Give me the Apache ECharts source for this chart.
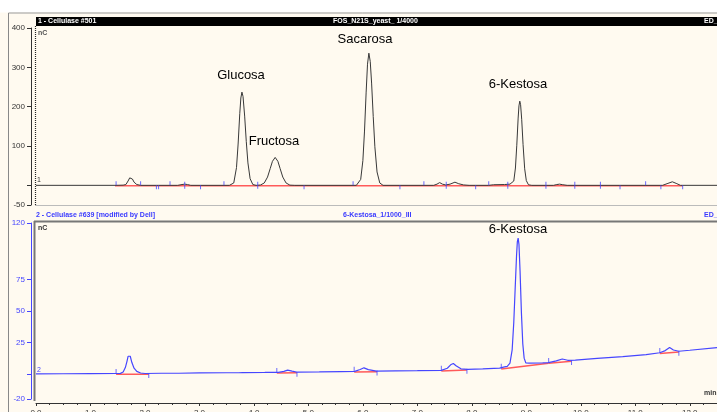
<!DOCTYPE html>
<html>
<head>
<meta charset="utf-8">
<script src="https://cdn.jsdelivr.net/npm/echarts@6/dist/echarts.min.js"></script>
<style>
html, body { margin: 0; padding: 0; background: #fff; }
#chart { width: 717px; height: 412px; }
</style>
</head>
<body>
<div id="chart"></div>
<script>
// tiempos en min, señal en mAU (arriba) y nC (abajo)
var topTrace = [
	[0, 0], [1.45, 0], [1.6, 0.5], [1.65, 2], [1.69, 11], [1.72, 19], [1.74, 21], [1.77, 16], [1.8, 8], [1.85, 2], [1.92, 0],
	[2.6, 0], [2.68, 2], [2.73, 3], [2.78, 2], [2.84, 0], [3.55, 0],
	[3.58, 0.3], [3.63, 6], [3.68, 45], [3.71, 105], [3.74, 182], [3.76, 222], [3.78, 237], [3.80, 226], [3.83, 176],
	[3.86, 111], [3.89, 57], [3.93, 17], [3.98, 2], [4.04, 0],
	[4.12, 0.8], [4.19, 6], [4.25, 21], [4.30, 43], [4.34, 61], [4.39, 71], [4.44, 61], [4.48, 43], [4.53, 21], [4.59, 6],
	[4.66, 0.5], [4.75, 0], [5.88, 0],
	[5.91, 1], [5.96, 15], [6.0, 63], [6.03, 138], [6.06, 237], [6.085, 308], [6.11, 336], [6.135, 315], [6.16, 260],
	[6.19, 175], [6.22, 98], [6.26, 34], [6.31, 6], [6.37, 0],
	[7.3, 0], [7.36, 3], [7.41, 7], [7.46, 3], [7.52, 1], [7.6, 3], [7.69, 8], [7.76, 4], [7.85, 1], [7.95, 0],
	[8.31, 0], [8.4, 1.5], [8.6, 2], [8.7, 3], [8.73, 5], [8.77, 11], [8.8, 44], [8.825, 102], [8.85, 171], [8.865, 202],
	[8.88, 214], [8.895, 205], [8.915, 168], [8.94, 104], [8.97, 42], [9.0, 12], [9.04, 1.3], [9.1, 0],
	[9.5, 0], [9.56, 2], [9.61, 3], [9.67, 1.5], [9.75, 0],
	[11.5, 0], [11.6, 5], [11.68, 9], [11.75, 5], [11.83, 0], [12.5, 0]
];
var topBaseline = [[1.45, -1.2], [11.87, -1.2]];
var topTicksUp = [1.47, 1.92, 2.46, 3.45, 5.82, 7.12, 8.31, 11.19];
var topTicksDown = [2.21, 2.25, 3.02, 4.92, 6.68, 8.07, 10.72, 11.47, 11.87];
var topTicksCross = [2.73, 4.07, 7.53, 8.66, 9.36, 9.89, 10.36];

var bottomTrace = [
	[0, 0], [0.5, 0.1], [1.0, 0.2], [1.47, 0.3], [1.55, 0.4], [1.6, 1.5], [1.64, 5], [1.67, 10], [1.69, 14], [1.71, 15.3],
	[1.73, 14], [1.76, 9], [1.8, 4.5], [1.85, 2], [1.92, 0.7], [2.0, 0.3],
	[2.3, 0.5], [2.55, 0.5], [2.58, 1.3], [2.62, 0.5], [3.0, 0.8], [3.5, 0.9], [3.72, 0.9], [3.75, 1.8], [3.79, 1],
	[4.2, 1.1], [4.45, 1.2], [4.55, 2], [4.62, 3], [4.7, 2.2], [4.8, 1.3], [5.2, 1.5], [5.6, 1.8], [5.85, 2],
	[5.95, 3.5], [6.02, 4.8], [6.1, 3.4], [6.25, 2.2], [6.6, 2.4], [7.0, 2.5], [7.44, 2.8],
	[7.55, 4.5], [7.62, 7.5], [7.66, 8.3], [7.71, 6.5], [7.8, 4], [7.92, 3.6], [8.2, 4], [8.51, 4.5],
	[8.6, 5.5], [8.65, 6], [8.7, 8.5], [8.74, 19], [8.77, 41], [8.795, 67.5], [8.82, 93.5], [8.835, 105], [8.85, 108],
	[8.865, 103], [8.885, 82], [8.91, 48.5], [8.935, 24], [8.96, 12.5], [8.99, 8.8], [9.05, 8.5],
	[9.3, 8.8], [9.41, 9], [9.55, 10.3], [9.66, 11.8], [9.76, 10.8], [9.9, 11], [10.3, 12.3], [10.77, 13.7],
	[11.2, 15.3], [11.45, 16.8], [11.55, 18.5], [11.63, 21], [11.7, 19], [11.8, 18], [12.0, 18.8], [12.5, 20.9]
];
var bottomBaselines = [
	[[1.47, -0.3], [2.07, -0.3]],
	[[4.42, 0.6], [4.79, 0.8]],
	[[5.84, 1.4], [6.26, 1.6]],
	[[7.44, 2.2], [7.91, 3.0]],
	[[8.54, 3.9], [9.41, 8.4]],
	[[9.41, 8.4], [9.83, 10.1]],
	[[11.45, 16.2], [11.8, 17.4]]
];
var bottomTicksUp = [[1.47, 0.3], [4.42, 1], [5.84, 2], [7.44, 2.8], [8.54, 4.5], [9.41, 9], [11.45, 17]];
var bottomTicksDown = [[2.07, 0.3], [4.79, 1.3], [6.26, 2.2], [7.91, 3.6], [9.83, 10.7], [11.8, 18]];

var topLabels = [400, 300, 200, 100, -50];
var topMajor = [400, 300, 200, 100, 0, -50];
var topMinor = [-40, -20, 20, 40, 60, 80, 120, 140, 160, 180, 220, 240, 260, 280, 320, 340, 360, 380];
var bottomLabels = [120, 75, 50, 25, -20];
var bottomMajor = [120, 75, 50, 25, 0, -20];
var bottomMinor = [-15, -10, -5, 5, 10, 15, 20, 30, 35, 40, 45, 55, 60, 65, 70, 80, 85, 90, 95, 100, 105, 110, 115];

var BLUE = '#4646ff';
var RED = '#ff5a5a';
var FONT = '"Liberation Sans", Arial, sans-serif';

function ticks(data, y, offset, size, xi, yi) {
	return {
		type: 'scatter',
		xAxisIndex: xi,
		yAxisIndex: yi,
		symbol: 'rect',
		symbolSize: size,
		symbolOffset: [0, offset],
		itemStyle: { color: BLUE },
		silent: true,
		z: 5,
		data: data.map(function(d) {
			return typeof d === 'number' ? [d, y] : d;
		})
	};
}

var series = [{
	type: 'line',
	xAxisIndex: 0,
	yAxisIndex: 0,
	data: topBaseline,
	symbol: 'none',
	lineStyle: { color: RED, width: 1.5 },
	z: 2
}, {
	type: 'line',
	xAxisIndex: 0,
	yAxisIndex: 0,
	data: topTrace,
	symbol: 'none',
	lineStyle: { color: '#383838', width: 1 },
	z: 3
}, {
	type: 'line',
	xAxisIndex: 1,
	yAxisIndex: 2,
	data: bottomTrace,
	symbol: 'none',
	lineStyle: { color: BLUE, width: 1.2 },
	z: 3
}];
bottomBaselines.forEach(function(seg) {
	series.push({
		type: 'line',
		xAxisIndex: 1,
		yAxisIndex: 2,
		data: seg,
		symbol: 'none',
		lineStyle: { color: RED, width: 1.5 },
		z: 2
	});
});
series.push(ticks(topTicksUp, 0, -2, [1, 4], 0, 0));
series.push(ticks(topTicksDown, 0, 2, [1, 4], 0, 0));
series.push(ticks(topTicksCross, 0, 0, [1, 7], 0, 0));
series.push(ticks(bottomTicksUp, 0, -2, [1, 5], 1, 2));
series.push(ticks(bottomTicksDown, 0, 2, [1, 5], 1, 2));

function yAx(grid, min, max, color, major, labels, minor) {
	return [{
		gridIndex: grid,
		type: 'value',
		min: min,
		max: max,
		offset: 5,
		axisLine: { show: true, onZero: false, lineStyle: { color: color, width: 1 } },
		axisTick: { show: true, length: 4, customValues: major, lineStyle: { color: color } },
		axisLabel: { customValues: labels, fontSize: 8, fontFamily: FONT, color: color, margin: 6 },
		splitLine: { show: false }
	}, {
		gridIndex: grid,
		type: 'value',
		min: min,
		max: max,
		offset: 5,
		axisLine: { show: false, onZero: false },
		axisTick: { show: true, length: 2, customValues: minor, lineStyle: { color: color } },
		axisLabel: { show: false },
		splitLine: { show: false }
	}];
}

var yAxes = yAx(0, -50, 400, '#333', topMajor, topLabels, topMinor)
	.concat(yAx(1, -20, 120, BLUE, bottomMajor, bottomLabels, bottomMinor));

function txt(text, x, y, size, color, align, bold) {
	return {
		type: 'text',
		x: x,
		y: y,
		z: 10,
		style: {
			text: text,
			fill: color,
			font: (bold ? 'bold ' : '') + size + 'px ' + FONT,
			textAlign: align || 'left',
			textVerticalAlign: 'middle'
		}
	};
}

var option = {
	backgroundColor: '#fffaf0',
	animation: false,
	grid: [
		{ left: 36, right: 0, top: 28, height: 177, outerBoundsMode: 'none' },
		{ left: 36, right: 0, top: 223, height: 176, outerBoundsMode: 'none' }
	],
	xAxis: [{
		gridIndex: 0,
		type: 'value',
		min: 0,
		max: 12.5,
		show: false
	}, {
		gridIndex: 1,
		type: 'value',
		min: 0,
		max: 12.5,
		interval: 1,
		offset: 4,
		axisLine: { show: true, onZero: false, lineStyle: { color: '#333', width: 1 } },
		axisTick: { length: 3, lineStyle: { color: '#333' } },
		minorTick: { show: true, splitNumber: 4, length: 2, lineStyle: { color: '#333' } },
		axisLabel: {
			fontSize: 8,
			fontFamily: FONT,
			color: '#333',
			margin: 6,
			showMaxLabel: false,
			formatter: function(v) { return v.toFixed(1); }
		},
		splitLine: { show: false }
	}],
	yAxis: yAxes,
	series: series,
	graphic: [
		// marcos
		{ type: 'rect', shape: { x: 0, y: 0, width: 717, height: 12.5 }, style: { fill: '#fff' }, z: 0 },
		{ type: 'line', shape: { x1: 8.5, y1: 13, x2: 717, y2: 13 }, style: { stroke: '#999', lineWidth: 1 } },
		{ type: 'line', shape: { x1: 8.5, y1: 13, x2: 8.5, y2: 412 }, style: { stroke: '#888', lineWidth: 1 } },
		{ type: 'rect', shape: { x: 36, y: 17, width: 681, height: 9 }, style: { fill: '#000' } },
		{ type: 'line', shape: { x1: 35.5, y1: 26, x2: 35.5, y2: 205 }, style: { stroke: '#222', lineWidth: 1.2, lineDash: [1, 1] } },
		{ type: 'line', shape: { x1: 35, y1: 205.5, x2: 717, y2: 205.5 }, style: { stroke: '#bbb', lineWidth: 1 } },
		{ type: 'line', shape: { x1: 34, y1: 221.5, x2: 717, y2: 221.5 }, style: { stroke: '#777', lineWidth: 2 } },
		{ type: 'line', shape: { x1: 34.5, y1: 221, x2: 34.5, y2: 401 }, style: { stroke: '#777', lineWidth: 2 } },
		// cabeceras
		txt('1 - Cellulase #501', 38, 21.5, 7, '#fff', 'left', true),
		txt('FOS_N21S_yeast_ 1/4000', 333, 21.5, 7, '#fff', 'left', true),
		txt('ED_', 704, 21.5, 7, '#fff', 'left', true),
		txt('2 - Cellulase #639 [modified by Dell]', 36, 215.5, 7, '#3a3aff', 'left', true),
		txt('6-Kestosa_1/1000_III', 343, 215.5, 7, '#3a3aff', 'left', true),
		txt('ED_', 704, 215.5, 7, '#3a3aff', 'left', true),
		txt('nC', 38, 33, 7, '#555', 'left', true),
		txt('nC', 38, 228, 7, '#333', 'left', true),
		txt('1', 37, 180, 7, '#333', 'left', false),
		txt('2', 37, 370, 7, BLUE, 'left', false),
		txt('min', 704, 393, 7, '#333', 'left', true),
		// picos
		txt('Glucosa', 241, 75, 13, '#000', 'center'),
		txt('Fructosa', 274, 141, 13, '#000', 'center'),
		txt('Sacarosa', 365, 39, 13, '#000', 'center'),
		txt('6-Kestosa', 518, 84, 13, '#000', 'center'),
		txt('6-Kestosa', 518, 229, 13, '#000', 'center')
	]
};

var chart = echarts.init(document.getElementById('chart'));
chart.setOption(option);
</script>
</body>
</html>
